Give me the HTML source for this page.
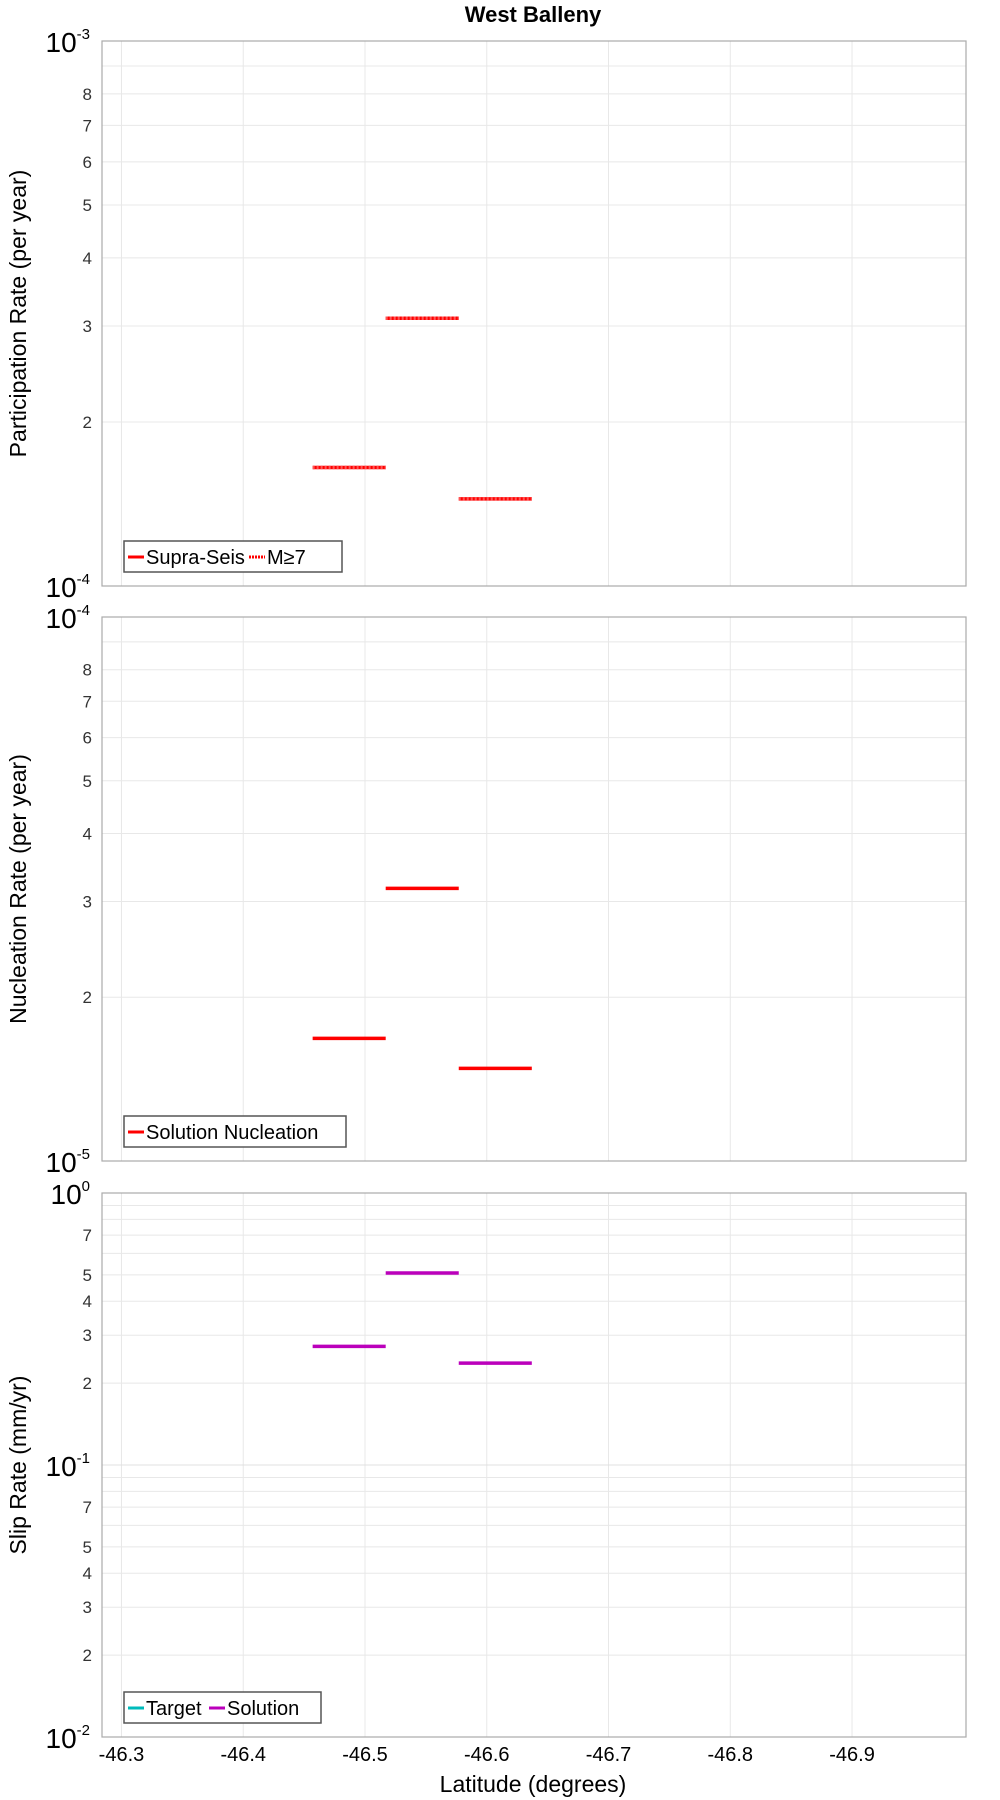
<!DOCTYPE html>
<html><head><meta charset="utf-8"><style>
html,body{margin:0;padding:0;background:#fff;width:1000px;height:1800px;overflow:hidden}
svg{font-family:"Liberation Sans",sans-serif}
</style></head><body>
<svg id="chart" width="1000" height="1800" xmlns="http://www.w3.org/2000/svg">
<text x="533" y="22" text-anchor="middle" font-weight="bold" font-size="22">West Balleny</text>
<text x="533" y="1792" text-anchor="middle" font-size="23">Latitude (degrees)</text>
</svg>
<script>
const xTicks = [-46.3,-46.4,-46.5,-46.6,-46.7,-46.8,-46.9];
const xTickLabels = ["-46.3","-46.4","-46.5","-46.6","-46.7","-46.8","-46.9"];
const segStart = [-46.457,-46.517,-46.577];
const segEnd = [-46.517,-46.577,-46.637];
const partRates = [1.65e-4,3.10e-4,1.445e-4];
const m7Rates = [1.65e-4,3.10e-4,1.445e-4];
const nuclRates = [1.68e-5,3.17e-5,1.48e-5];
const slipSolution = [0.273,0.508,0.237];
const slipTarget = [];

const NS="http://www.w3.org/2000/svg";
const svg=document.getElementById('chart');
const L=102,R=966,X0=-46.284,X1=-46.9936;
function xs(v){return L+(v-X0)/(X1-X0)*(R-L);}
function mk(tag,attrs,parent){const e=document.createElementNS(NS,tag);for(const k in attrs)e.setAttribute(k,attrs[k]);(parent||svg).appendChild(e);return e;}

function panel(name,top,bot,dMin,dMax,labeledMinors,yTitle,series,legend){
  const g=mk('g',{});
  
  
  const ys=v=>bot-(Math.log10(v)-dMin)/(dMax-dMin)*(bot-top);
  for(let d=dMin;d<dMax;d++){for(let m=2;m<=9;m++){const v=m*Math.pow(10,d);const y=ys(v);
    const gl=mk('line',{x1:L,x2:R,y1:y,y2:y,stroke:'#e8e8e8','stroke-width':1},g);
    
    if(labeledMinors.includes(m)){const t=mk('text',{x:L-10,y:y+6,'text-anchor':'end','font-size':17,fill:'#333'},g);t.textContent=m;
      }
  }}
  for(const v of xTicks){const x=xs(v);const gl=mk('line',{x1:x,x2:x,y1:top,y2:bot,stroke:'#e8e8e8','stroke-width':1},g);
    }
  for(let d=dMin;d<=dMax;d++){const y=ys(Math.pow(10,d));
    if(d>dMin&&d<dMax){const gl=mk('line',{x1:L,x2:R,y1:y,y2:y,stroke:'#e0e0e0','stroke-width':1},g);
      }
    const t=mk('text',{x:L-12,y:y+11,'text-anchor':'end','font-size':28},g);
    
    t.appendChild(document.createTextNode('10'));
    const s=document.createElementNS(NS,'tspan');s.setAttribute('font-size','15');s.setAttribute('dy','-13');s.textContent=d;t.appendChild(s);}
  const fr=mk('rect',{x:L,y:top,width:R-L,height:bot-top,fill:'none',stroke:'#aaa','stroke-width':1.2},g);
  
  const yt=mk('text',{x:0,y:0,'text-anchor':'middle','font-size':23,transform:`translate(26,${(top+bot)/2}) rotate(-90)`},g);
  yt.textContent=yTitle;
  for(const s of series){for(let i=0;i<s.vals.length;i++){const y=ys(s.vals[i]);
    const ln=mk('line',{x1:xs(segStart[i]),x2:xs(segEnd[i]),y1:y,y2:y,stroke:s.color,'stroke-width':3.5},g);
    if(s.dash)ln.setAttribute('stroke-dasharray',s.dash);
    }}
  const lg=mk('g',{},g);
  mk('rect',{x:124,y:bot-45,width:legend.w,height:31,fill:'#fff',stroke:'#555','stroke-width':1.5},lg);
  let x=128;
  for(const e of legend.items){
    mk('line',{x1:x,x2:x+16,y1:bot-29,y2:bot-29,stroke:e.color,'stroke-width':3,'stroke-dasharray':e.dash||'none'},lg);
    const t=mk('text',{x:x+18,y:bot-22,'font-size':20},lg);t.textContent=e.label;
    
    x+=18+e.tw+3;}
}
panel('participation-panel',41,586,-4,-3,[2,3,4,5,6,7,8],'Participation Rate (per year)',
  [{name:'supra-seis',vals:partRates,color:'#f00'},{name:'m7',vals:m7Rates,color:'#f55',dash:'2,2'}],
  {w:218,items:[{label:'Supra-Seis',color:'#f00',tw:100},{label:'M≥7',color:'#f00',dash:'2,1',tw:42}]});
panel('nucleation-panel',617,1161,-5,-4,[2,3,4,5,6,7,8],'Nucleation Rate (per year)',
  [{name:'solution-nucleation',vals:nuclRates,color:'#f00'}],
  {w:222,items:[{label:'Solution Nucleation',color:'#f00',tw:190}]});
panel('slip-rate-panel',1193,1737,-2,0,[2,3,4,5,7],'Slip Rate (mm/yr)',
  [{name:'target',vals:slipTarget,color:'#0bb'},{name:'solution',vals:slipSolution,color:'#b0b'}],
  {w:197,items:[{label:'Target',color:'#0bb',tw:60},{label:'Solution',color:'#b0b',tw:82}]});
for(let i=0;i<xTicks.length;i++){const t=mk('text',{x:xs(xTicks[i]),y:1761,'text-anchor':'middle','font-size':20});
  t.textContent=xTickLabels[i];}
</script>
</body></html>
